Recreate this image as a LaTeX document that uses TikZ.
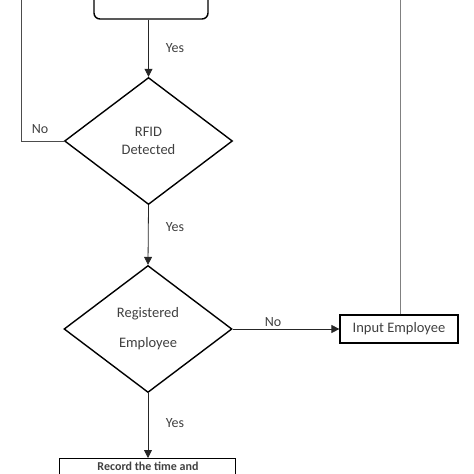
\documentclass[tikz,border=0pt]{standalone}
\usepackage{fontspec}
\setmainfont{Carlito}
\usetikzlibrary{shapes.geometric,arrows.meta}
\begin{document}
\begin{tikzpicture}[x=1pt,y=-1pt,
  box/.style={draw=black, line width=1.4pt, inner sep=0pt},
  decision/.style={diamond, draw=black, line width=1.4pt, inner sep=0pt, minimum width=168pt, minimum height=127pt, align=center, text=black!75, font=\fontsize{14.5}{17}\selectfont},
  flow/.style={draw=black!85, line width=0.8pt, -{Triangle[length=8pt,width=8pt]}},
  lbl/.style={text=black!75, font=\fontsize{14}{16}\selectfont}]
\clip (0,0) rectangle (474,474);
\node[box, rounded corners=6pt, minimum width=114pt, minimum height=60pt] (tscan) at (151,-11){};
\node[decision] (trfid) at (148.5,141){RFID\\[1pt]Detected};
\node[decision] (treg) at (148,329){Registered\\[13pt]Employee};
\node[box, line width=1.2pt, minimum width=118pt, minimum height=28pt, text=black!75, font=\fontsize{14.5}{17}\selectfont] (tinput) at (399,329){Input Employee};
\node[box, minimum width=176pt, minimum height=40pt, anchor=north] (trec) at (147.5,458){};
\node[inner sep=0pt, text=black!75, font=\fontsize{12}{14}\bfseries] (trectxt) at (148,466.5){Record the time and};
\coordinate (tleft) at (21,0);
\coordinate (tright) at (400,0);
\draw[flow](tscan.south -| trfid.north) -- (trfid.north);
\draw[flow](trfid.south) -- (treg.north);
\draw[flow](treg.south) -- (trec.north -| treg.south);
\draw[flow](treg.east) -- (tinput.west);
\draw[draw=black!70, line width=0.8pt](trfid.west) -| (tleft);
\draw[draw=black!50, line width=0.9pt](tinput.north -| tright) -- (tright);
\node[lbl] (tyes1) at (175,48){Yes};
\node[lbl] (tyes2) at (175,227){Yes};
\node[lbl] (tyes3) at (175,423){Yes};
\node[lbl] (tno1) at (40,129){No};
\node[lbl] (tno2) at (273,322){No};
\end{tikzpicture}
\end{document}
